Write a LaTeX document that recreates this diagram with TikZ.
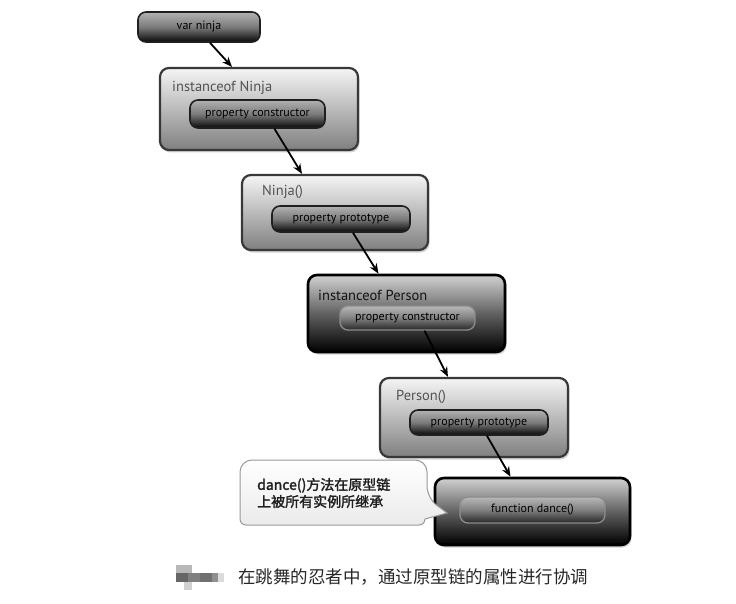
\documentclass[tikz,border=0pt]{standalone}
\usepackage{fontspec}
\setmainfont{PT Sans}
\newfontfamily\cjk[AutoFakeBold=2]{Noto Sans CJK SC}
\usetikzlibrary{shadows,arrows.meta,calc}
\tikzset{
  outerlight/.style={draw=black!78, line width=2.2pt, rounded corners=9pt,
    top color=black!4, bottom color=black!50,
    drop shadow={opacity=0.35, shadow xshift=1.5pt, shadow yshift=-2.5pt},
    minimum width=#1},
  outerdark/.style={draw=black, line width=2.6pt, rounded corners=9pt,
    top color=black!18, bottom color=black, middle color=black!62,
    drop shadow={opacity=0.35, shadow xshift=1.5pt, shadow yshift=-2.5pt},
    minimum width=#1},
  pill/.style={draw=black!88, line width=1.6pt, rounded corners=8pt,
    top color=black!30, bottom color=black!97, middle color=black!52,
    text=black, font=\fontsize{12}{14}\selectfont, minimum width=#1, inner sep=0pt},
  pilldark/.style={draw=black!45, line width=1.3pt, rounded corners=8pt,
    top color=black!28, bottom color=black!85, middle color=black!50,
    text=black, font=\fontsize{12}{14}\selectfont, minimum width=#1, inner sep=0pt},
  boxlabel/.style={anchor=west, inner sep=0pt, font=\fontsize{14.5}{16}\selectfont, text=black!68},
  boxlabeldark/.style={anchor=west, inner sep=0pt, font=\fontsize{14.5}{16}\selectfont, text=black!92},
  link/.style={line width=1.8pt, black, -{Stealth[length=10pt,width=8pt]}},
  callout/.style={draw=black!40, line width=1pt, top color=white, bottom color=black!8},
}
\begin{document}
\begin{tikzpicture}[x=1pt,y=-1pt]
\useasboundingbox (0,0) rectangle (736,604);

% var ninja
\node[pill=122, minimum height=30] (vn) at (199,27) {var ninja};

% instanceof Ninja
\node[outerlight=198, minimum height=82] (in1) at (259,109) {};
\node[boxlabel] (l1) at (172,88) {instanceof Ninja};
\node[pill=135, minimum height=28] (p1) at (257.5,114) {property constructor};

% Ninja()
\node[outerlight=186, minimum height=75] (nf) at (335,212.5) {};
\node[boxlabel] (l2) at (262,192) {Ninja()};
\node[pill=138, minimum height=26] (p2) at (341,219) {property prototype};

% instanceof Person
\node[outerdark=197, minimum height=77] (ip) at (406.5,313.5) {};
\node[boxlabeldark] (l3) at (318,295) {instanceof Person};
\node[pilldark=135, minimum height=24] (p3) at (407.5,318) {property constructor};

% Person()
\node[outerlight=188, minimum height=79] (pf) at (474,417.5) {};
\node[boxlabel] (l4) at (396,397) {Person()};
\node[pill=138, minimum height=25] (p4) at (479,422.5) {property prototype};

% function dance()
\node[outerdark=195, minimum height=67] (fd) at (532.5,511.5) {};
\node[pilldark=145, minimum height=26] (p5) at (532.5,510) {function dance()};

% arrows
\draw[link] ([xshift=11pt]vn.south) -- ([xshift=-27pt]in1.north);
\draw[link] ([xshift=17pt]p1.south) -- ([xshift=-33pt]nf.north);
\draw[link] ([xshift=12pt]p2.south) -- ([xshift=-28pt]ip.north);
\draw[link] ([xshift=17pt]p3.south) -- ([xshift=-26pt]pf.north);
\draw[link] ([xshift=8pt]p4.south) -- ([xshift=-22pt]fd.north);

% callout
\coordinate (tip) at (447,513);
\draw[callout, rounded corners=12pt] (240,460) -- (427,460) -- (427,498)
  [sharp corners] -- (tip) -- (425,519) [rounded corners=6pt] -- (425,525) -- (240,525) [rounded corners=12pt] -- cycle;
\node[anchor=west, inner sep=0pt, align=left, font={\cjk\bfseries\fontsize{14}{17}\selectfont}, text=black!88] (ct) at (257,493) {dance()方法在原型链\\上被所有实例所继承};

% caption
\fill[black!28] (176,565) rectangle (192,573);
\fill[black!60] (176,573) rectangle (188,582);
\fill[black!50] (188,573) rectangle (200,582);
\fill[black!56] (200,573) rectangle (212,582);
\fill[black!44] (212,573) rectangle (218,582);
\fill[black!14] (218,573) rectangle (224,582);
\fill[black!18] (184,582) rectangle (192,590);
\node[anchor=west, inner sep=0pt, font={\cjk\fontsize{17.5}{20}\selectfont}, text=black!85] (cap) at (238,577) {在跳舞的忍者中，通过原型链的属性进行协调};
\end{tikzpicture}
\end{document}
